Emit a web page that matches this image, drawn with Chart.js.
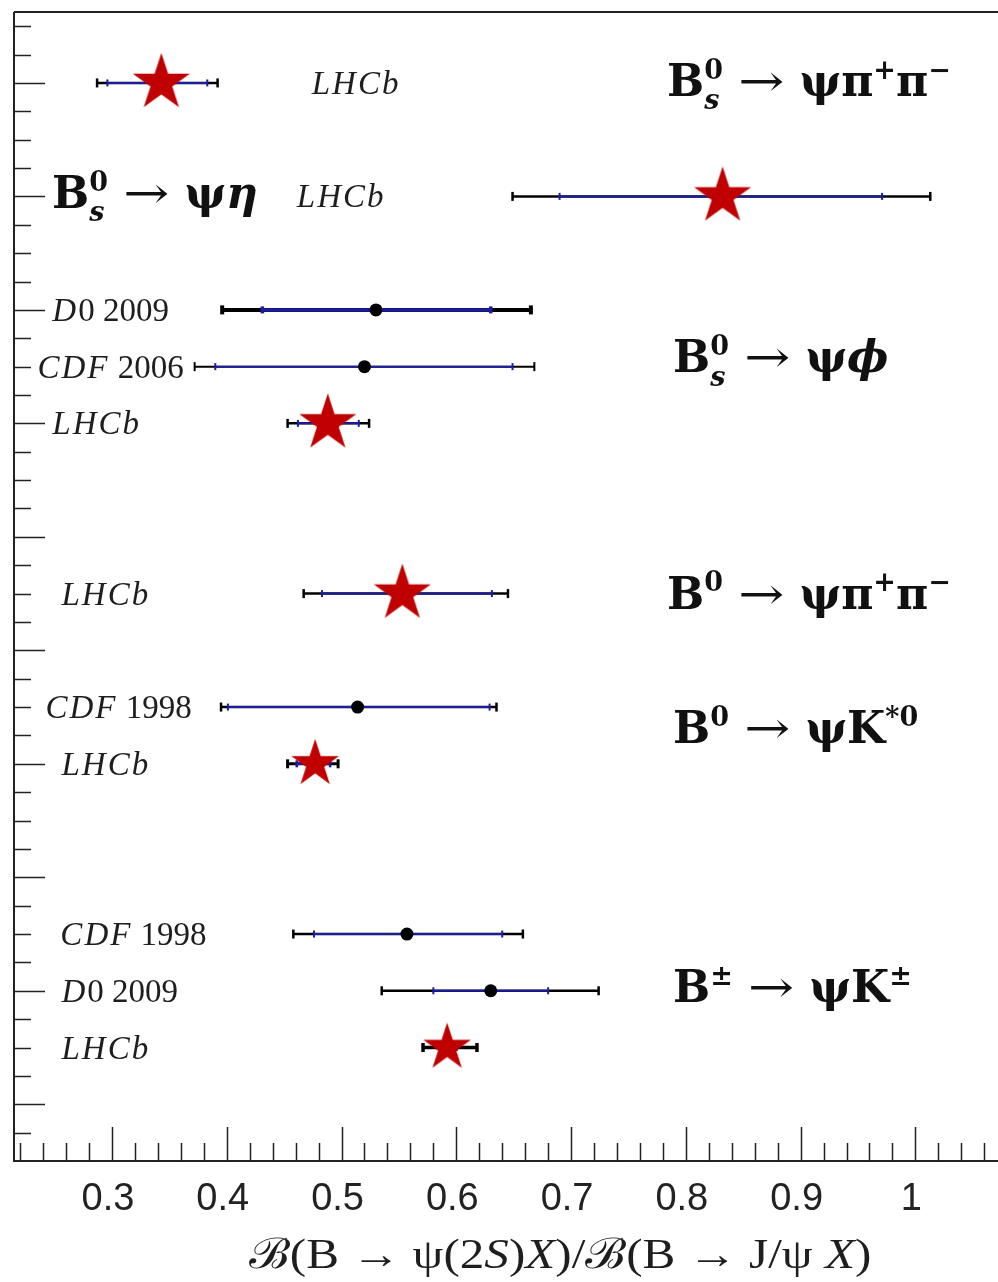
<!DOCTYPE html>
<html>
<head>
<meta charset="utf-8">
<title>psi(2S) / J/psi branching fraction ratios</title>
<script src="https://cdn.jsdelivr.net/npm/chart.js@4.4.1/dist/chart.umd.min.js"></script>
<style>
	html, body { margin: 0; padding: 0; background: #fff; overflow: hidden; }
	canvas { display: block; }
</style>
</head>
<body>
<canvas id="ratioChart" width="998" height="1282"></canvas>
<script>
// one entry per measurement, top to bottom
const rows        = [38, 34, 30, 28, 26, 20, 16, 14, 8, 6, 4];
const experiments = ["LHCb", "LHCb", "D0 2009", "CDF 2006", "LHCb", "LHCb", "CDF 1998", "LHCb", "CDF 1998", "D0 2009", "LHCb"];
const central     = [0.343, 0.832, 0.530, 0.520, 0.488, 0.553, 0.514, 0.477, 0.557, 0.630, 0.592];
// statistical error band (blue)
const statLo      = [0.296, 0.690, 0.431, 0.390, 0.462, 0.483, 0.401, 0.461, 0.476, 0.580, 0.586];
const statHi      = [0.383, 0.971, 0.630, 0.649, 0.515, 0.631, 0.629, 0.490, 0.640, 0.680, 0.600];
// total error band (black)
const totLo       = [0.287, 0.649, 0.396, 0.372, 0.453, 0.467, 0.395, 0.453, 0.458, 0.535, 0.571];
const totHi       = [0.392, 1.013, 0.665, 0.668, 0.524, 0.645, 0.635, 0.497, 0.658, 0.724, 0.618];

// decay channels
const decays = [
	"B^{0}_{s} → ψπ^{+}π^{−}",
	"B^{0}_{s} → ψη",
	"B^{0}_{s} → ψϕ",
	"B^{0} → ψπ^{+}π^{−}",
	"B^{0} → ψK^{*0}",
	"B^{±} → ψK^{±}",
];

const xTicks = [0.3, 0.4, 0.5, 0.6, 0.7, 0.8, 0.9, 1];
const xTitle = "ℬ(B → ψ(2S)X)/ℬ(B → J/ψ X)";

// ---- layout / style ----
const X_MIN = 0.2146, X_MAX = 1.072;
const Y_MIN = 0, Y_MAX = 40.5;

// where the experiment name sits (axis units, left edge)
const expLabelX = [0.474, 0.461, 0.248, 0.235, 0.248, 0.256, 0.242, 0.256, 0.255, 0.256, 0.256];
// decay label anchors: [x of left edge, y of baseline]
const decayAt = [[0.7836, 37.53], [0.2477, 33.6], [0.7888, 27.8], [0.7836, 19.47], [0.7888, 14.74], [0.7888, 5.61]];

const barWidth   = [2.5, 2.5, 4, 2, 2.5, 2.5, 2.5, 3, 2.5, 2.5, 3.5];
const starRadius = [30, 30, 0, 0, 30, 30, 0, 25, 0, 0, 25];

const BLUE = "#1c1ca3";
const RED = "#c00000";
const LIB_SERIF = "'Liberation Serif', 'DejaVu Serif', serif";
const DJV_SERIF = "'DejaVu Serif', 'Liberation Serif', serif";

const expStyle = { size: 33, family: LIB_SERIF, bold: false, italic: (ch) => /[A-Za-z]/.test(ch), track: 2 };
const decayStyle = { size: 44, family: DJV_SERIF, bold: true, italic: (ch) => "sηϕ".includes(ch), script: 0.62, arrow: 1.25 };
const titleStyle = { size: 42, family: LIB_SERIF, bold: false, italic: (ch) => "SX".includes(ch), stretch: 1.17 };

function makeStar(R, color) {
	const c = document.createElement("canvas");
	const s = Math.ceil(2 * R) + 2;
	c.width = s;
	c.height = s;
	const g = c.getContext("2d");
	g.fillStyle = color;
	g.beginPath();
	for (let k = 0; k < 10; k++) {
		const r = k % 2 ? R * 0.382 : R;
		const a = -Math.PI / 2 + (k * Math.PI) / 5;
		g.lineTo(s / 2 + r * Math.cos(a), s / 2 + r * Math.sin(a));
	}
	g.closePath();
	g.fill();
	return c;
}

const stars = {};
starRadius.forEach(function (r) {
	if (r && !stars[r]) stars[r] = makeStar(r, RED);
});

// split a label into glyph runs, handling ^{..} and _{..}
function buildRuns(ctx, str, st) {
	const font = (sz, it, b) => (it ? "italic " : "") + (b ? "bold " : "") + sz + "px " + st.family;
	const runs = [];
	const size = st.size;
	let x = 0, i = 0, last = null;
	while (i < str.length) {
		const c = str[i];
		if ((c === "^" || c === "_") && str[i + 1] === "{") {
			const end = str.indexOf("}", i);
			const body = str.slice(i + 2, end);
			const sz = Math.round(size * (st.script || 0.7));
			const dy = c === "^" ? -0.39 * size : 0.3 * size;
			const stacked = last && last.kind !== c && last.end === i;
			const x0 = stacked ? last.x0 : x;
			let w = 0;
			for (const ch of body) {
				const f = font(sz, st.italic(ch), st.bold);
				ctx.font = f;
				runs.push({ t: ch, f: f, x: x0 + w, dy: dy, sx: 1 });
				w += ctx.measureText(ch).width;
			}
			x = stacked ? Math.max(x, x0 + w) : x0 + w;
			last = stacked ? null : { kind: c, x0: x0, end: end + 1 };
			i = end + 1;
			continue;
		}
		last = null;
		const isArrow = c === "→";
		const it = st.italic(c);
		const f = font(size, it, isArrow ? false : st.bold);
		const sx = isArrow && st.arrow ? st.arrow : 1;
		ctx.font = f;
		runs.push({ t: c, f: f, x: x, dy: 0, sx: sx });
		x += ctx.measureText(c).width * sx + (it && st.track ? st.track : 0);
		i++;
	}
	const stretch = st.stretch || 1;
	return { runs: runs, width: x * stretch, stretch: stretch };
}

function drawRuns(ctx, laid, x, y) {
	ctx.save();
	ctx.translate(x, y);
	ctx.scale(laid.stretch, 1);
	laid.runs.forEach(function (r) {
		ctx.font = r.f;
		if (r.sx !== 1) {
			ctx.save();
			ctx.translate(r.x, r.dy);
			ctx.scale(r.sx, 1);
			ctx.fillText(r.t, 0, 0);
			ctx.restore();
		} else {
			ctx.fillText(r.t, r.x, r.dy);
		}
	});
	ctx.restore();
}

const decorations = {
	id: "decorations",
	beforeDatasetsDraw(chart) {
		const { ctx, chartArea: a, scales } = chart;
		const x = scales.x, y = scales.y;
		ctx.save();
		ctx.textAlign = "left";
		ctx.textBaseline = "alphabetic";

		// experiment names
		ctx.fillStyle = "#1e1e1e";
		experiments.forEach(function (name, i) {
			const laid = buildRuns(ctx, name, expStyle);
			drawRuns(ctx, laid, x.getPixelForValue(expLabelX[i]), y.getPixelForValue(rows[i]) + 11);
		});

		// decay channels
		ctx.fillStyle = "#111";
		decays.forEach(function (d, i) {
			const laid = buildRuns(ctx, d, decayStyle);
			drawRuns(ctx, laid, x.getPixelForValue(decayAt[i][0]), y.getPixelForValue(decayAt[i][1]));
		});

		// axis title
		ctx.fillStyle = "#1e1e1e";
		const t = buildRuns(ctx, xTitle, titleStyle);
		drawRuns(ctx, t, x.getPixelForValue(0.6904) - t.width / 2, a.bottom + 107);
		ctx.restore();
	},
	afterDraw(chart) {
		const { ctx, chartArea: a, scales } = chart;
		const x = scales.x, y = scales.y;
		ctx.save();
		ctx.strokeStyle = "#222";

		// frame: left, bottom, top
		ctx.lineWidth = 2;
		ctx.beginPath();
		ctx.moveTo(a.left, a.top);
		ctx.lineTo(a.left, a.bottom);
		ctx.lineTo(a.right, a.bottom);
		ctx.moveTo(a.left, a.top);
		ctx.lineTo(a.right, a.top);
		ctx.stroke();

		// inward tick marks
		ctx.lineWidth = 1.5;
		ctx.beginPath();
		for (let k = 11; k <= 53; k++) {
			const px = Math.round(x.getPixelForValue(k / 50)) + 0.5;
			const len = k % 5 === 0 ? 34 : 18;
			ctx.moveTo(px, a.bottom);
			ctx.lineTo(px, a.bottom - len);
		}
		for (let k = 1; k <= 40; k++) {
			const py = Math.round(y.getPixelForValue(k)) + 0.5;
			const len = (k - 2) % 4 === 0 ? 31 : 17;
			ctx.moveTo(a.left, py);
			ctx.lineTo(a.left + len, py);
		}
		ctx.stroke();
		ctx.restore();
	},
};

function errorBar(lo, hi, row, color, width, cap, order) {
	return {
		data: [{ x: lo, y: row }, { x: hi, y: row }],
		showLine: true,
		borderColor: color,
		borderWidth: width,
		pointStyle: "line",
		rotation: 90,
		pointRadius: cap,
		pointBorderColor: color,
		pointBackgroundColor: color,
		pointBorderWidth: width,
		order: order,
	};
}

const datasets = [];
rows.forEach(function (row, i) {
	datasets.push(errorBar(totLo[i], totHi[i], row, "#000", barWidth[i], 4.5, 3));
	datasets.push(errorBar(statLo[i], statHi[i], row, BLUE, Math.max(2, barWidth[i] - 0.5), 3.5, 2));
});
datasets.push({
	data: rows.map((row, i) => ({ x: central[i], y: row })),
	pointStyle: (ctx) => (starRadius[ctx.dataIndex] ? stars[starRadius[ctx.dataIndex]] : "circle"),
	pointRadius: 6.5,
	pointBackgroundColor: "#000",
	pointBorderWidth: 0,
	order: 1,
});

new Chart(document.getElementById("ratioChart"), {
	type: "scatter",
	data: { datasets: datasets },
	options: {
		responsive: false,
		animation: false,
		events: [],
		layout: { autoPadding: false, padding: { top: 12, left: 0, right: 0, bottom: 0 } },
		plugins: { legend: { display: false }, tooltip: { enabled: false } },
		scales: {
			x: {
				type: "linear",
				position: "bottom",
				min: X_MIN,
				max: X_MAX,
				grid: { display: false },
				border: { display: false },
				afterBuildTicks: (s) => {
					s.ticks = xTicks.map((v) => ({ value: v }));
				},
				ticks: {
					padding: 8,
					labelOffset: -4,
					color: "#222",
					font: { family: "'Liberation Sans', Arial, sans-serif", size: 38, lineHeight: 1.2 },
					callback: (v) => String(v),
				},
				afterFit: (s) => {
					s.height = 121;
					s.paddingLeft = 0;
					s.paddingRight = 0;
				},
			},
			y: {
				type: "linear",
				min: Y_MIN,
				max: Y_MAX,
				grid: { display: false },
				border: { display: false },
				ticks: { display: false },
				afterFit: (s) => {
					s.width = 14;
					s.paddingTop = 0;
					s.paddingBottom = 0;
				},
			},
		},
	},
	plugins: [decorations],
});
</script>
</body>
</html>
